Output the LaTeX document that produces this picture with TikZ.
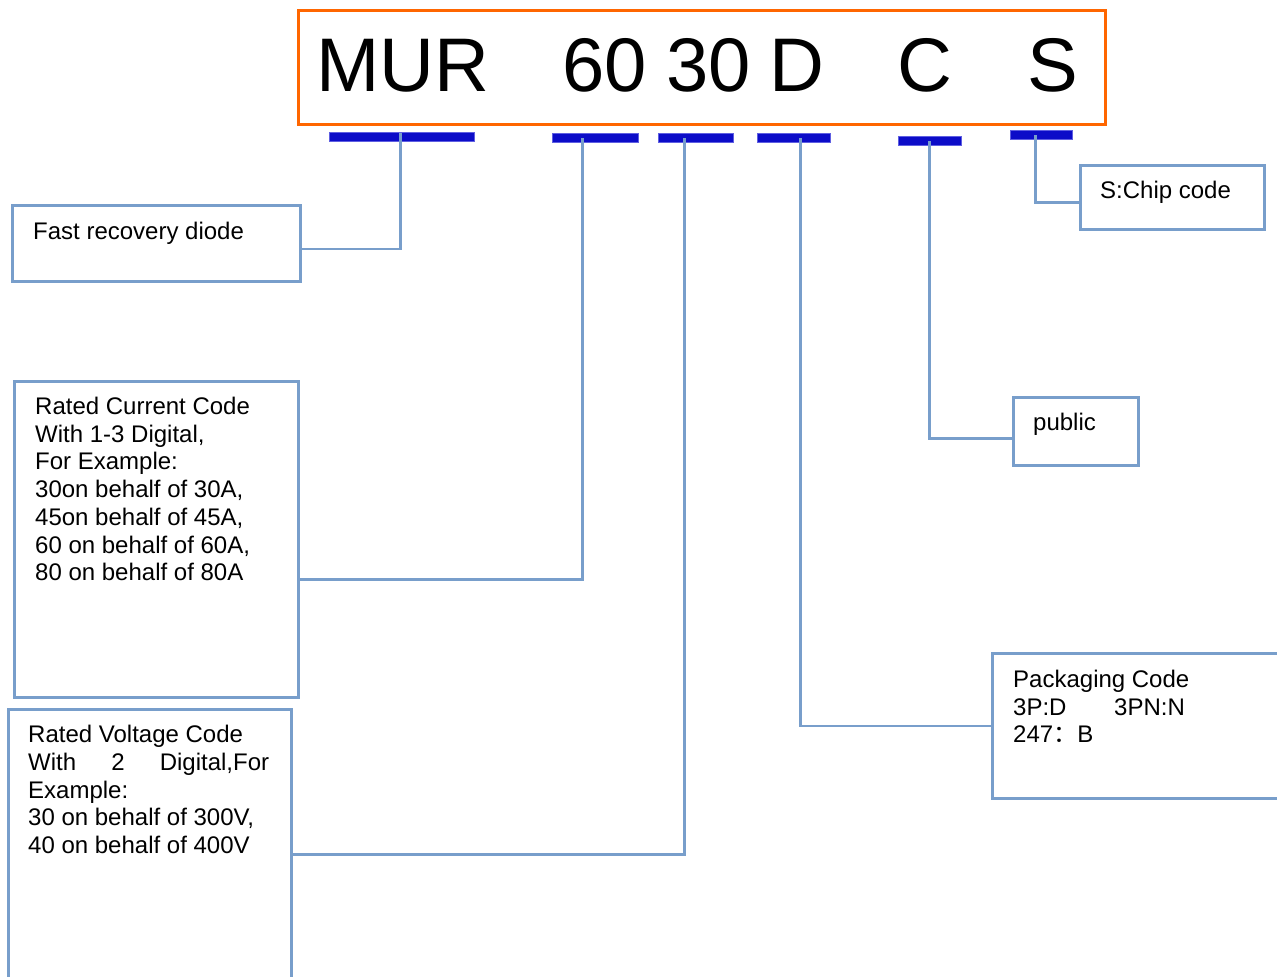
\documentclass[tikz,border=0pt]{standalone}
\usepackage{fontspec}
\setmainfont{Liberation Sans}
\newfontfamily\cjkfont{Noto Sans CJK SC}
\usetikzlibrary{calc}
\definecolor{lineblue}{RGB}{120,158,203}
\definecolor{barblue}{RGB}{12,12,200}
\definecolor{barlight}{RGB}{95,95,225}
\definecolor{codeorange}{RGB}{255,102,0}
\begin{document}
\begin{tikzpicture}[x=1pt,y=-1pt,
  framebox/.style={draw=lineblue, line width=2.6pt, anchor=north west, inner sep=0pt},
  codebox/.style={draw=codeorange, line width=2.8pt, anchor=north west, inner sep=0pt, minimum width=807pt, minimum height=114pt},
  bigcode/.style={anchor=base west, inner sep=0pt, font=\fontsize{76}{80}\selectfont},
  bar/.style={anchor=west, inner sep=0pt, minimum height=8.5pt, fill=barblue, draw=barlight, line width=1.3pt},
  conn/.style={draw=lineblue, line width=2.6pt},
  label/.style={anchor=north west, inner sep=0pt, align=left, font=\fontsize{24}{27.7}\selectfont}
]
\useasboundingbox (0,0) rectangle (1277,977);
\clip (0,0) rectangle (1277,977);

% code box
\node[codebox] (code) at (297,9) {};
\node[bigcode] (mur) at (316,91) {MUR};
\node[bigcode] (c60) at (562,91) {60};
\node[bigcode] (c30) at (666,91) {30};
\node[bigcode] (cd) at (769,91) {D};
\node[bigcode] (cc) at (897,91) {C};
\node[bigcode] (cs) at (1027,91) {S};

% boxes
\node[framebox, minimum width=288pt, minimum height=76pt] (box1) at (11,204) {};
\node[framebox, minimum width=284pt, minimum height=316pt] (box2) at (13,380) {};
\node[framebox, minimum width=283pt, minimum height=292pt] (box3) at (7,708) {};
\node[framebox, minimum width=304pt, minimum height=145pt] (box4) at (991,652) {};
\node[framebox, minimum width=125pt, minimum height=68pt] (box5) at (1012,396) {};
\node[framebox, minimum width=184pt, minimum height=64pt] (box6) at (1079,164) {};

% texts
\node[label] (t1) at (33,222) {Fast recovery diode};
\node[label] (t2) at (35,397) {Rated Current Code\\With 1-3 Digital,\\For Example:\\30on behalf of 30A,\\45on behalf of 45A,\\60 on behalf of 60A,\\80 on behalf of 80A};
\node[label] (t3) at (28,725) {Rated Voltage Code\\\hbox to 241pt{With\hfill 2\hfill Digital,For}\\Example:\\30 on behalf of 300V,\\40 on behalf of 400V};
\node[label] (t4) at (1013,670) {Packaging Code\\\hbox to 101pt{3P:D\hfill}3PN:N\\247{\cjkfont ：}B};
\node[label] (t5) at (1033,413) {public};
\node[label] (t6) at (1100,181) {S:Chip code};

% bars
\node[bar, minimum width=145pt] (bar1) at (329,137) {};
\node[bar, minimum width=86pt] (bar2) at (552,138) {};
\node[bar, minimum width=75pt] (bar3) at (658,138) {};
\node[bar, minimum width=73pt] (bar4) at (757,138) {};
\node[bar, minimum width=63pt] (bar5) at (898,141) {};
\node[bar, minimum width=62pt] (bar6) at (1010,135) {};

% connector tops
\coordinate (k1) at ([xshift=-1.5pt,yshift=4pt]bar1.center);
\coordinate (k2) at ([xshift=-13pt]bar2.center);
\coordinate (k3) at ([xshift=-11.5pt]bar3.center);
\coordinate (k4) at ([xshift=6.5pt]bar4.center);
\coordinate (k5) at ([xshift=-0.5pt]bar5.center);
\coordinate (k6) at ([xshift=-6pt]bar6.center);

% connectors
\draw[conn] (k1) |- ([yshift=-5.5pt]box1.east);
\draw[conn] (k2) |- ([yshift=-40pt]box2.east);
\draw[conn] (k3) |- ([yshift=1pt]box3.east);
\draw[conn] (k4) |- (box4.west);
\draw[conn] (k5) |- ([yshift=-7pt]box5.west);
\draw[conn] (k6) |- ([yshift=-5pt]box6.west);
\end{tikzpicture}
\end{document}
